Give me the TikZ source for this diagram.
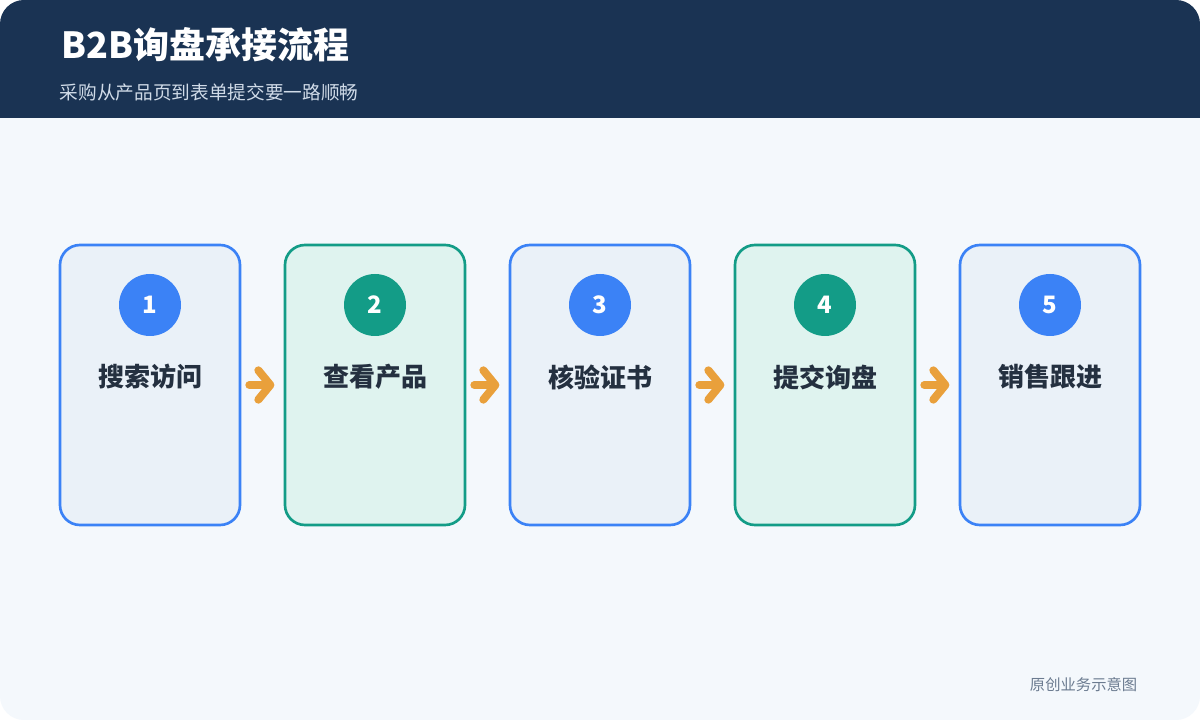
\documentclass[tikz,border=0pt]{standalone}
\usepackage{fontspec}
\setmainfont{Noto Sans CJK SC}
\usetikzlibrary{arrows.meta}

\definecolor{navy}{HTML}{1A3353}
\definecolor{canvas}{HTML}{F4F8FC}
\definecolor{bluedge}{HTML}{3B82F6}
\definecolor{bluefill}{HTML}{EAF1F8}
\definecolor{greenedge}{HTML}{139C87}
\definecolor{greenfill}{HTML}{DFF3EF}
\definecolor{inkdark}{HTML}{243040}
\definecolor{subtext}{HTML}{D0DBE8}
\definecolor{footgrey}{HTML}{6B7B90}
\definecolor{flowarrow}{HTML}{E9A03B}

\tikzset{
  stepcard/.style={rectangle, rounded corners=15pt, line width=2pt, minimum width=135pt, minimum height=210pt},
  bluecard/.style={stepcard, draw=bluedge, fill=bluefill},
  greencard/.style={stepcard, draw=greenedge, fill=greenfill},
  badge/.style={circle, minimum size=46.5pt, inner sep=0pt, text=white, font=\bfseries\fontsize{18}{20}\selectfont},
  steplabel/.style={text=inkdark, font=\bfseries\fontsize{19.5}{22}\selectfont},
  flow/.style={draw=flowarrow, line width=6pt, line cap=round, shorten <=6pt, shorten >=7pt, -{Straight Barb[length=9pt, width=22pt, round]}}
}

\begin{document}
\begin{tikzpicture}[x=0.75pt, y=-0.75pt]

\useasboundingbox (0,0) rectangle (1200,720);
\fill[white] (0,0) rectangle (1200,720);
\begin{scope}
\clip[rounded corners=18pt] (0,0) rectangle (1200,720);
\fill[canvas] (0,0) rectangle (1200,720);
\fill[navy] (0,0) rectangle (1200,118);
\end{scope}

\node[anchor=west, text=white, font=\bfseries\fontsize{27}{30}\selectfont] (title) at (57,45) {B2B询盘承接流程};
\node[anchor=west, text=subtext, font=\fontsize{14}{16}\selectfont] (subtitle) at (55,92) {采购从产品页到表单提交要一路顺畅};

\node[bluecard] (c1) at (150,385) {};
\node[badge, fill=bluedge] (n1) at (150,305) {1};
\node[steplabel] (t1) at (150,377) {搜索访问};

\node[greencard] (c2) at (375,385) {};
\node[badge, fill=greenedge] (n2) at (375,305) {2};
\node[steplabel] (t2) at (375,377) {查看产品};

\node[bluecard] (c3) at (600,385) {};
\node[badge, fill=bluedge] (n3) at (600,305) {3};
\node[steplabel] (t3) at (600,377) {核验证书};

\node[greencard] (c4) at (825,385) {};
\node[badge, fill=greenedge] (n4) at (825,305) {4};
\node[steplabel] (t4) at (825,377) {提交询盘};

\node[bluecard] (c5) at (1050,385) {};
\node[badge, fill=bluedge] (n5) at (1050,305) {5};
\node[steplabel] (t5) at (1050,377) {销售跟进};

\draw[flow] (c1.east) -- (c2.west);
\draw[flow] (c2.east) -- (c3.west);
\draw[flow] (c3.east) -- (c4.west);
\draw[flow] (c4.east) -- (c5.west);

\node[anchor=east, text=footgrey, font=\fontsize{11.5}{14}\selectfont] (footer) at (1142,685) {原创业务示意图};

\end{tikzpicture}
\end{document}
